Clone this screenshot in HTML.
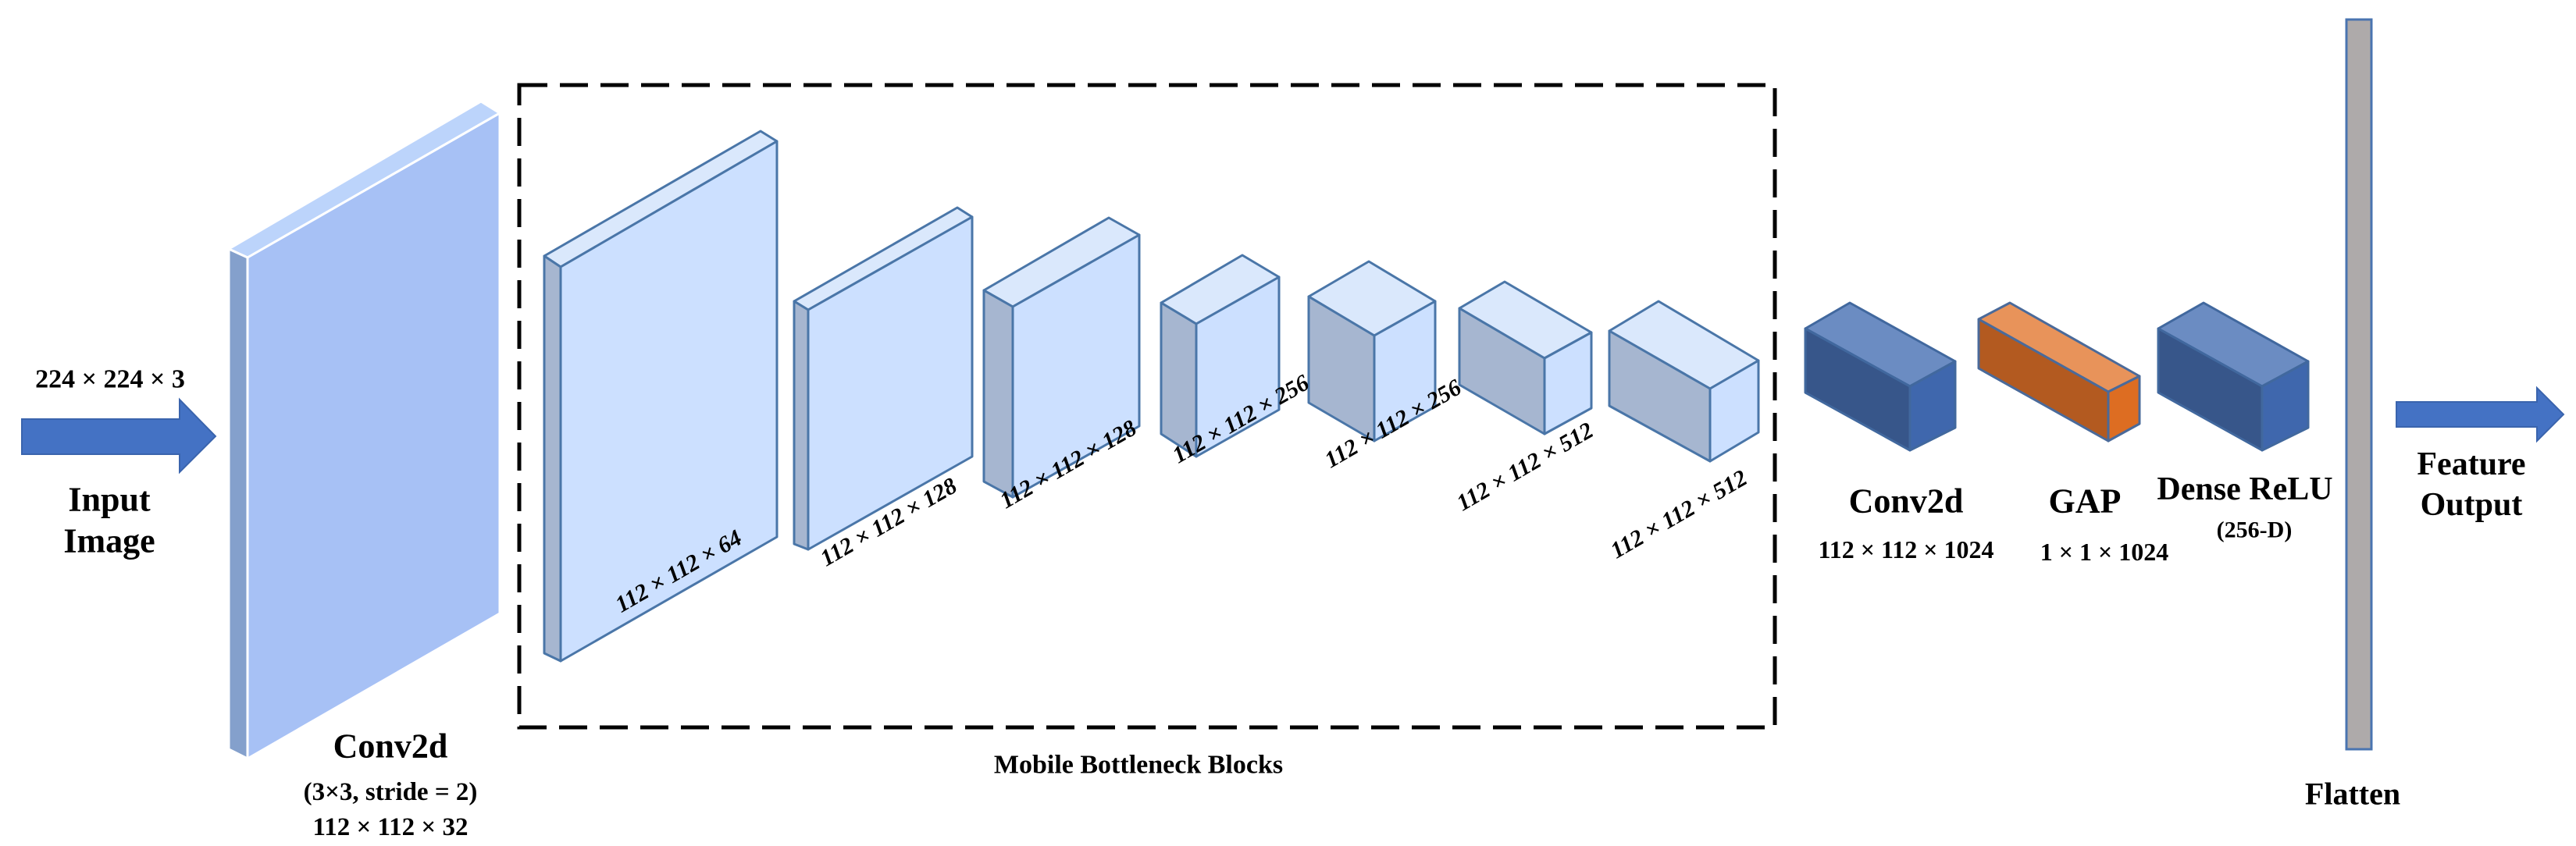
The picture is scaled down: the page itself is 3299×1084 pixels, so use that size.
<!DOCTYPE html>
<html><head><meta charset="utf-8"><style>
html,body{margin:0;padding:0;background:#fff}
svg{display:block}
text{font-family:"Liberation Serif",serif;font-weight:bold;fill:#000}
</style></head><body>
<svg width="3299" height="1084" viewBox="0 0 3299 1084" xmlns="http://www.w3.org/2000/svg">
<g text-anchor="middle" dominant-baseline="central">
<!-- input arrow -->
<polygon points="28,537 230,537 230,512 276,559 230,605 230,582 28,582" fill="#4472c4" stroke="#3a64ad" stroke-width="2"/>
<text x="141" y="486" font-size="34">224 × 224 × 3</text>
<text x="140" y="640" font-size="44">Input</text>
<text x="140" y="693" font-size="44">Image</text>

<!-- big conv slab -->
<polygon points="293,319 317,330 640,145 616,130" fill="#bcd4fb" stroke="#fff" stroke-width="3"/>
<polygon points="293,319 317,330 317,972 293,960" fill="#84a0cc" stroke="#fff" stroke-width="3"/>
<polygon points="317,330 640,145 640,786 317,972" fill="#a7c1f5" stroke="#fff" stroke-width="3"/>
<text x="500" y="956" font-size="44">Conv2d</text>
<text x="500" y="1015" font-size="33">(3×3, stride = 2)</text>
<text x="500" y="1060" font-size="33">112 × 112 × 32</text>

<!-- dashed box -->
<rect x="665" y="109" width="1608" height="823" fill="none" stroke="#000" stroke-width="5" stroke-dasharray="36,16"/>
<text x="1458" y="980" font-size="34">Mobile Bottleneck Blocks</text>

<g stroke="#4a76a8" stroke-width="3" stroke-linejoin="round">
<!-- block1 -->
<polygon points="697,328 718,342 995,181 974,168" fill="#dae8fc"/>
<polygon points="697,328 718,342 718,847 697,837" fill="#a6b6d0"/>
<polygon points="718,342 995,181 995,688 718,847" fill="#cce0ff"/>
<!-- block2 -->
<polygon points="1017,386 1035,397 1245,278 1226,266" fill="#dae8fc"/>
<polygon points="1017,386 1035,397 1035,704 1017,697" fill="#a6b6d0"/>
<polygon points="1035,397 1245,278 1245,585 1035,704" fill="#cce0ff"/>
<!-- block3 -->
<polygon points="1260,372 1297,393 1459,301 1420,279" fill="#dae8fc"/>
<polygon points="1260,372 1297,393 1297,637 1260,617" fill="#a6b6d0"/>
<polygon points="1297,393 1459,301 1459,546 1297,637" fill="#cce0ff"/>
<!-- block4 -->
<polygon points="1487,388 1532,415 1638,355 1591,327" fill="#dae8fc"/>
<polygon points="1487,388 1532,415 1532,585 1487,556" fill="#a6b6d0"/>
<polygon points="1532,415 1638,355 1638,525 1532,585" fill="#cce0ff"/>
<!-- block5 -->
<polygon points="1676,380 1760,430 1838,386 1753,335" fill="#dae8fc"/>
<polygon points="1676,380 1760,430 1760,565 1676,516" fill="#a6b6d0"/>
<polygon points="1760,430 1838,386 1838,521 1760,565" fill="#cce0ff"/>
<!-- block6 -->
<polygon points="1869,395 1978,459 2038,426 1927,361" fill="#dae8fc"/>
<polygon points="1869,395 1978,459 1978,556 1869,493" fill="#a6b6d0"/>
<polygon points="1978,459 2038,426 2038,523 1978,556" fill="#cce0ff"/>
<!-- block7 -->
<polygon points="2061,424 2190,498 2252,462 2124,386" fill="#dae8fc"/>
<polygon points="2061,424 2190,498 2190,591 2061,520" fill="#a6b6d0"/>
<polygon points="2190,498 2252,462 2252,554 2190,591" fill="#cce0ff"/>
</g>
<g font-size="30" font-style="italic">
<text transform="translate(869,732) rotate(-30)">112 × 112 × 64</text>
<text transform="translate(1138,669) rotate(-30)">112 × 112 × 128</text>
<text transform="translate(1368,595) rotate(-30)">112 × 112 × 128</text>
<text transform="translate(1589,537) rotate(-30)">112 × 112 × 256</text>
<text transform="translate(1784,543) rotate(-30)">112 × 112 × 256</text>
<text transform="translate(1953,598) rotate(-30)">112 × 112 × 512</text>
<text transform="translate(2150,659) rotate(-30)">112 × 112 × 512</text>
</g>

<g stroke="#41689e" stroke-width="3" stroke-linejoin="round">
<!-- conv2d box -->
<polygon points="2312,421 2369,388 2504,463 2446,495" fill="#6b8cc2"/>
<polygon points="2312,421 2446,495 2446,577 2312,503" fill="#37568a"/>
<polygon points="2446,495 2504,463 2504,548 2446,577" fill="#3f67ad"/>
<!-- dense -->
<polygon points="2764,421 2822,388 2956,463 2897,495" fill="#6b8cc2"/>
<polygon points="2764,421 2897,495 2897,577 2764,503" fill="#37568a"/>
<polygon points="2897,495 2956,463 2956,548 2897,577" fill="#3f67ad"/>
</g>
<g stroke="#4a6a9a" stroke-width="3" stroke-linejoin="round">
<polygon points="2534,409 2574,388 2740,482 2700,502" fill="#e8935a"/>
<polygon points="2534,409 2700,502 2700,565 2534,472" fill="#b35a20"/>
<polygon points="2700,502 2740,482 2740,543 2700,565" fill="#dd6d22"/>
</g>
<text x="2441" y="642" font-size="44">Conv2d</text>
<text x="2441" y="704" font-size="32">112 × 112 × 1024</text>
<text x="2670" y="642" font-size="44">GAP</text>
<text x="2695" y="707" font-size="32">1 × 1 × 1024</text>
<text x="2875" y="627" font-size="42">Dense ReLU</text>
<text x="2887" y="679" font-size="30">(256-D)</text>

<!-- flatten -->
<rect x="3005" y="25" width="32" height="935" fill="#aeaaaa" stroke="#4a74b0" stroke-width="3"/>
<text x="3013" y="1017" font-size="40">Flatten</text>

<!-- output arrow -->
<polygon points="3069,515 3249,515 3249,497 3283,531 3249,565 3249,547 3069,547" fill="#4472c4" stroke="#3a64ad" stroke-width="2"/>
<text x="3165" y="595" font-size="42">Feature</text>
<text x="3165" y="647" font-size="42">Output</text>
</g>
</svg>
</body></html>
